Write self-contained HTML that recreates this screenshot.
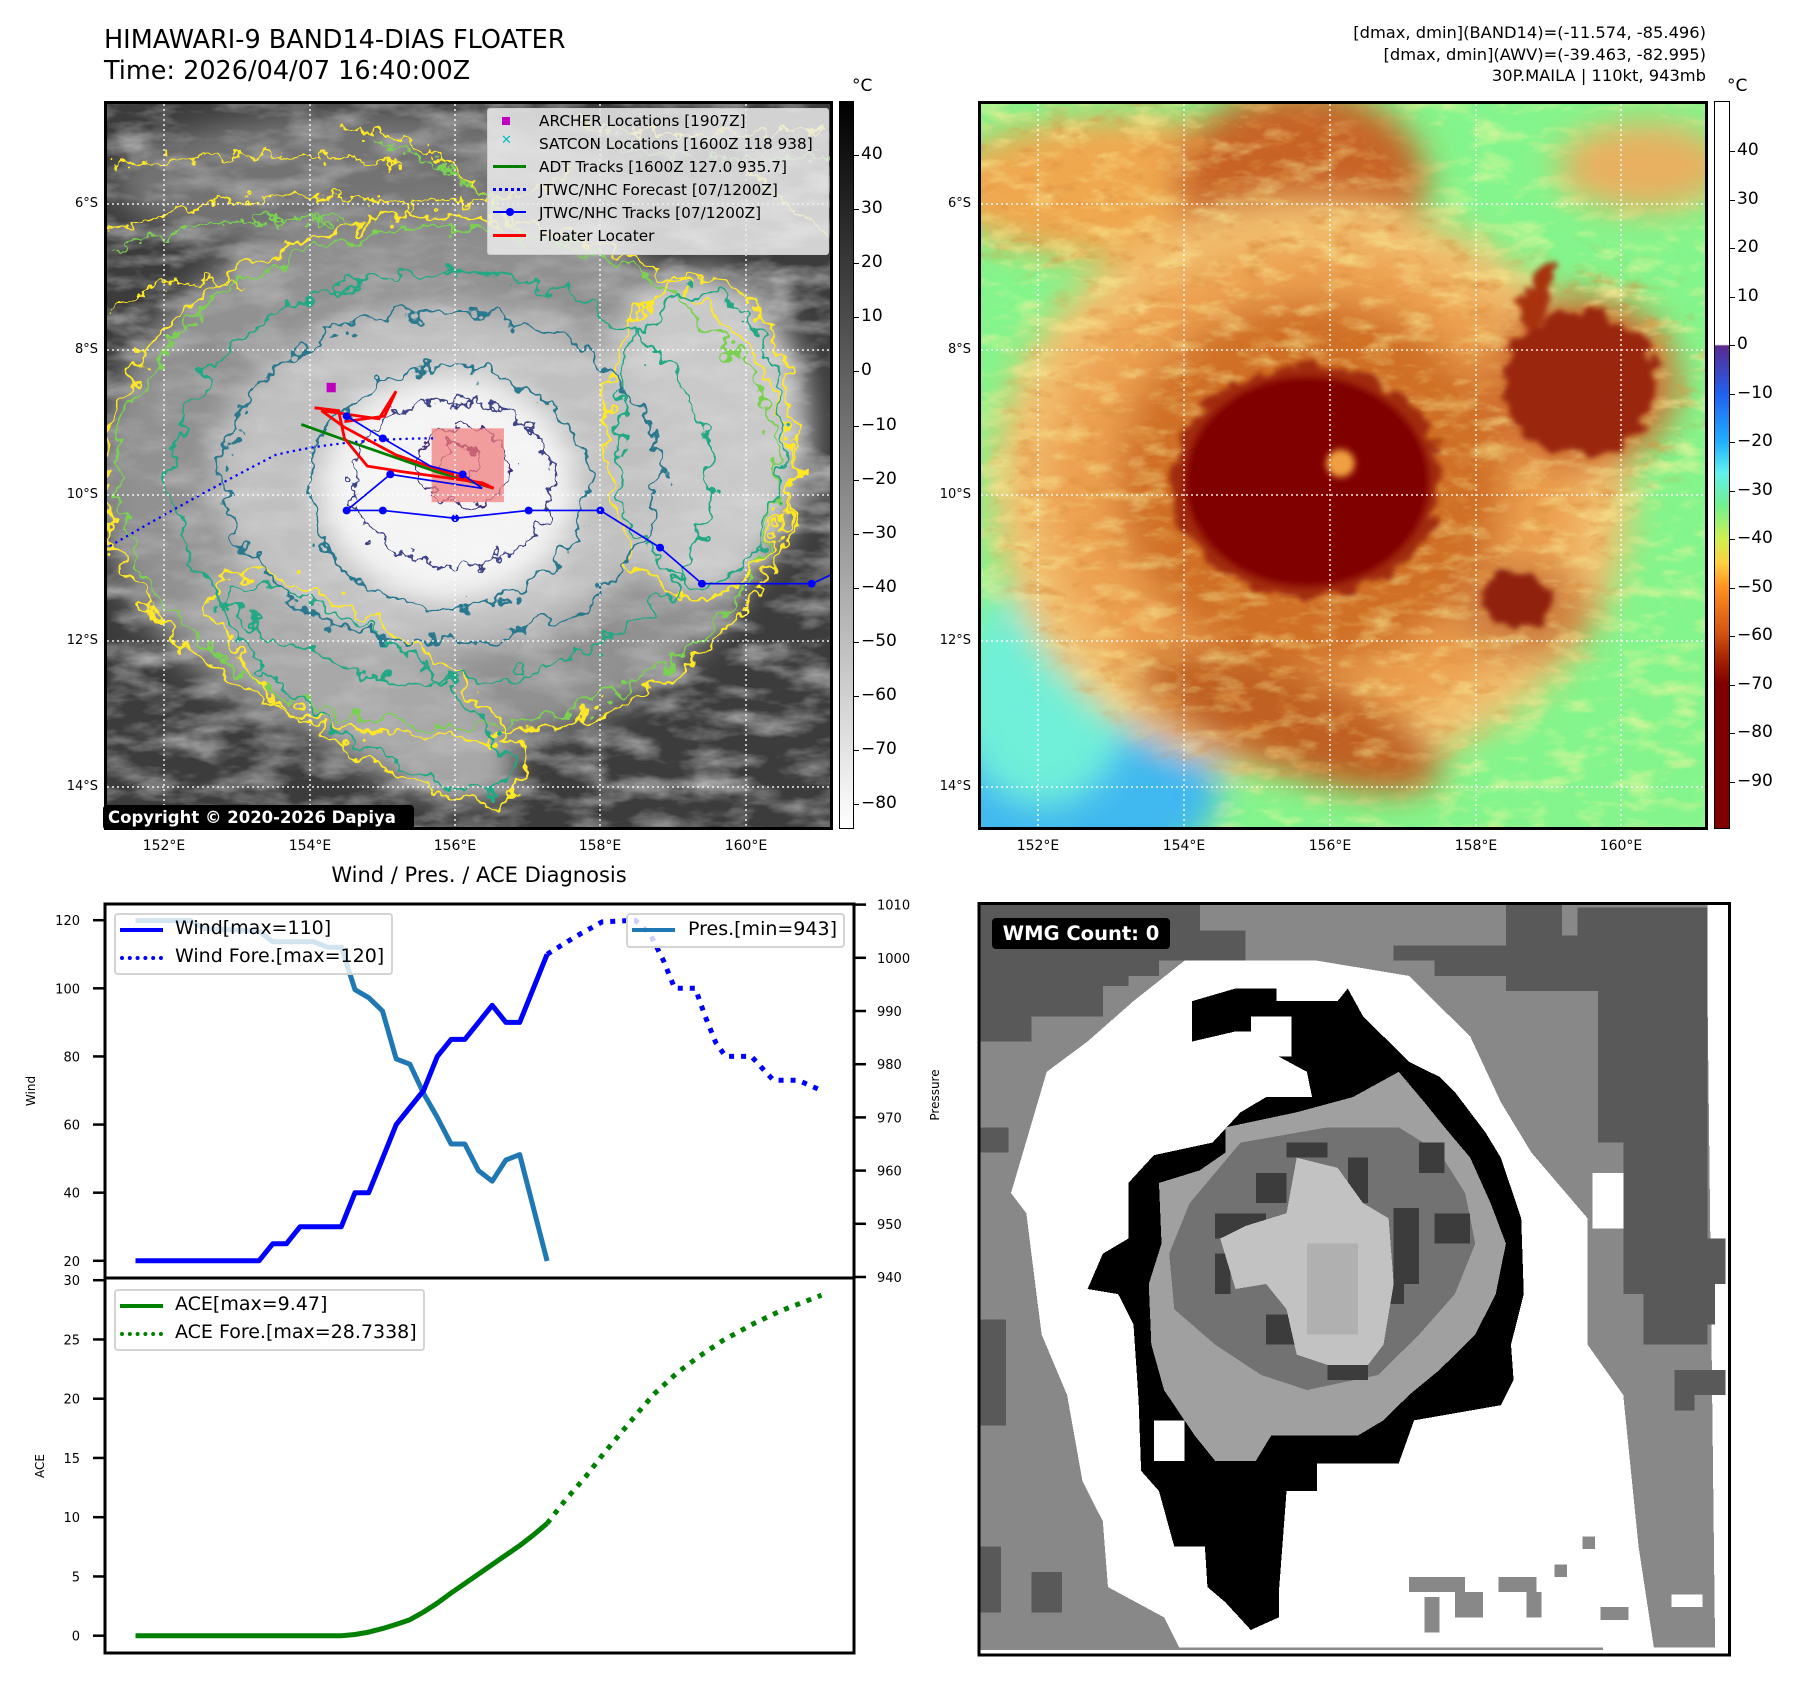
<!DOCTYPE html>
<html><head><meta charset="utf-8">
<style>
html,body{margin:0;padding:0;background:#fff;}
body{width:1797px;height:1690px;position:relative;overflow:hidden;font-family:"DejaVu Sans","Liberation Sans",sans-serif;color:#000;}
.abs{position:absolute;}
.t{position:absolute;white-space:nowrap;}
.frame{position:absolute;border:3px solid #000;box-sizing:border-box;}
.lat{position:absolute;font-size:13px;text-align:right;width:60px;}
.lon{position:absolute;font-size:14px;width:80px;text-align:center;}
.cbl{position:absolute;font-size:17px;}
</style></head><body>

<div class="t" style="left:104px;top:25px;font-size:25.5px;line-height:31px;">HIMAWARI-9 BAND14-DIAS FLOATER<br>Time: 2026/04/07 16:40:00Z</div>
<div class="t" style="right:91px;top:22px;font-size:16.3px;line-height:21.5px;text-align:right;">[dmax, dmin](BAND14)=(-11.574, -85.496)<br>[dmax, dmin](AWV)=(-39.463, -82.995)<br>30P.MAILA | 110kt, 943mb</div>

<!-- Top-left map -->
<svg class="abs" style="left:0;top:0;width:900px;height:870px" viewBox="0 0 1568 1568" preserveAspectRatio="none">
<defs>
<clipPath id="c1"><rect x="182" y="183" width="1268" height="1312"/></clipPath>
<filter id="bl1" x="-20%" y="-20%" width="140%" height="140%"><feGaussianBlur stdDeviation="25"/></filter>
<filter id="wig" x="-10%" y="-10%" width="120%" height="120%"><feTurbulence type="fractalNoise" baseFrequency="0.025" numOctaves="3" seed="4"/><feDisplacementMap in="SourceGraphic" scale="70" xChannelSelector="R" yChannelSelector="G"/></filter>
<filter id="wig2" x="-10%" y="-10%" width="120%" height="120%"><feTurbulence type="fractalNoise" baseFrequency="0.04" numOctaves="3" seed="9"/><feDisplacementMap in="SourceGraphic" scale="50" xChannelSelector="R" yChannelSelector="G"/></filter>
<filter id="noise"><feTurbulence type="fractalNoise" baseFrequency="0.01 0.025" numOctaves="4" seed="2"/><feColorMatrix type="matrix" values="0 0 0 0 1  0 0 0 0 1  0 0 0 0 1  0 0 0 1.6 -0.65"/></filter>
</defs>
<g clip-path="url(#c1)">
<rect x="182" y="183" width="1268" height="1312" fill="#3c3c3c"/>
<rect x="182" y="183" width="1268" height="1312" filter="url(#noise)" opacity="0.55"/>
<g filter="url(#bl1)">
<ellipse cx="760" cy="860" rx="590" ry="490" fill="#9a9a9a" opacity="0.9"/>
<ellipse cx="650" cy="330" rx="450" ry="130" fill="#8a8a8a" opacity="0.7"/>
<ellipse cx="1220" cy="780" rx="190" ry="290" fill="#c9c9c9"/>
<ellipse cx="620" cy="1230" rx="330" ry="120" fill="#a8a8a8" transform="rotate(35 620 1230)"/>
<ellipse cx="770" cy="860" rx="400" ry="310" fill="#c0c0c0"/>
<ellipse cx="780" cy="880" rx="220" ry="200" fill="#f4f4f4"/>
</g>
<rect x="182" y="183" width="1268" height="1312" filter="url(#noise)" opacity="0.25"/>
<g fill="none" stroke-width="5" filter="url(#wig)">
<ellipse cx="780" cy="860" rx="600" ry="470" stroke="#fde725"/>
<ellipse cx="780" cy="860" rx="575" ry="450" stroke="#7ad151"/>
<ellipse cx="1220" cy="790" rx="165" ry="290" stroke="#fde725"/>
<ellipse cx="1220" cy="790" rx="145" ry="265" stroke="#22a884"/>
<ellipse cx="640" cy="1240" rx="330" ry="110" stroke="#fde725" transform="rotate(35 640 1240)"/>
<ellipse cx="640" cy="1240" rx="300" ry="90" stroke="#22a884" transform="rotate(35 640 1240)"/>
<ellipse cx="770" cy="860" rx="470" ry="370" stroke="#22a884"/>
<ellipse cx="770" cy="860" rx="380" ry="300" stroke="#2a788e"/>
<ellipse cx="780" cy="880" rx="245" ry="215" stroke="#2a788e"/>
</g>
<g fill="none" stroke-width="4" filter="url(#wig2)">
<path d="M190 420 Q400 330 650 360 T1000 300 M200 300 Q450 260 700 300 M600 230 Q800 250 900 430 M190 560 Q300 480 420 520 M1000 220 Q1200 260 1440 230 M1300 300 Q1380 380 1440 420" stroke="#fde725"/>
<path d="M200 450 Q400 380 620 400 M650 260 Q820 280 920 450 M1050 260 Q1250 300 1440 280" stroke="#7ad151"/>
<ellipse cx="790" cy="870" rx="175" ry="150" stroke="#414487"/>
<ellipse cx="810" cy="840" rx="80" ry="70" stroke="#472d7b"/>
<ellipse cx="800" cy="830" rx="30" ry="30" stroke="#440154"/>
</g>
<rect x="752" y="772" width="126" height="133" fill="#f08080" opacity="0.75"/>
<path d="M182 990 Q330 900 480 820 Q600 790 760 790" fill="none" stroke="#0000ff" stroke-width="4" stroke-dasharray="4 7"/>
<path d="M525 765 L620 800 L760 850 L860 880" fill="none" stroke="#008000" stroke-width="5"/>
<path d="M548 735 L590 740 L600 790 L640 840 L700 850 L770 860 L840 870 L860 880 L690 820 L600 770 L560 740 L660 755 L690 705 L670 750 L600 760" fill="none" stroke="#ff0000" stroke-width="5"/>
<g fill="none" stroke="#0000ff" stroke-width="3"><polyline points="604,750 667,790 750,840 806,855 840,880 680,855 604,920 667,920 793,934 921,920 1046,920 1150,987 1223,1052 1414,1052 1450,1035"/></g>
<g fill="#0000ff"><circle cx="604" cy="750" r="7"/><circle cx="667" cy="790" r="7"/><circle cx="806" cy="855" r="7"/><circle cx="680" cy="855" r="7"/><circle cx="604" cy="920" r="7"/><circle cx="667" cy="920" r="7"/><circle cx="793" cy="934" r="7"/><circle cx="921" cy="920" r="7"/><circle cx="1046" cy="920" r="7"/><circle cx="1150" cy="987" r="7"/><circle cx="1223" cy="1052" r="7"/><circle cx="1414" cy="1052" r="7"/></g>
<rect x="569" y="690" width="16" height="17" fill="#bf00bf"/>
</g>
</svg>
<div class="frame" style="left:104px;top:101px;width:729px;height:729px;"></div>
<svg class="abs" style="left:0;top:0" width="900" height="870">
<g stroke="#fff" stroke-width="1.5" stroke-dasharray="2 3" opacity="0.9">
<line x1="164" y1="104" x2="164" y2="827"/><line x1="310" y1="104" x2="310" y2="827"/><line x1="455" y1="104" x2="455" y2="827"/><line x1="600" y1="104" x2="600" y2="827"/><line x1="746" y1="104" x2="746" y2="827"/>
<line x1="107" y1="204" x2="830" y2="204"/><line x1="107" y1="350" x2="830" y2="350"/><line x1="107" y1="495" x2="830" y2="495"/><line x1="107" y1="641" x2="830" y2="641"/><line x1="107" y1="787" x2="830" y2="787"/>
</g></svg>
<div class="abs" style="left:487px;top:108px;width:340px;height:145px;background:rgba(236,236,236,0.85);border:1px solid #ccc;border-radius:3px;font-size:15.3px;">
<div class="t" style="left:14px;top:4px;width:8px;height:8px;background:#bf00bf;margin-top:4px"></div><div class="t" style="left:51px;top:3px">ARCHER Locations [1907Z]</div>
<div class="t" style="left:13px;top:24px;color:#00bfbf;font-weight:bold;font-size:13px">✕</div><div class="t" style="left:51px;top:26px">SATCON Locations [1600Z 118 938]</div>
<div class="t" style="left:5px;top:56px;width:33px;height:3px;background:#008000"></div><div class="t" style="left:51px;top:49px">ADT Tracks [1600Z 127.0 935.7]</div>
<div class="t" style="left:5px;top:79px;width:33px;border-top:3px dotted #0000ff"></div><div class="t" style="left:51px;top:72px">JTWC/NHC Forecast [07/1200Z]</div>
<div class="t" style="left:5px;top:102px;width:33px;height:2px;background:#0000ff"></div><div class="t" style="left:18px;top:99px;width:8px;height:8px;border-radius:50%;background:#0000ff"></div><div class="t" style="left:51px;top:95px">JTWC/NHC Tracks [07/1200Z]</div>
<div class="t" style="left:5px;top:125px;width:33px;height:3px;background:#ff0000"></div><div class="t" style="left:51px;top:118px">Floater Locater</div>
</div>
<div class="abs" style="left:103px;top:805px;width:311px;height:25px;background:#000;border-radius:4px;color:#fff;font-weight:bold;font-size:16.5px;line-height:25px;padding-left:5px;box-sizing:border-box;">Copyright © 2020-2026 Dapiya</div>
<div class="lat" style="left:38px;top:196px">6°S</div><div class="lat" style="left:38px;top:342px">8°S</div><div class="lat" style="left:38px;top:487px">10°S</div><div class="lat" style="left:38px;top:633px">12°S</div><div class="lat" style="left:38px;top:779px">14°S</div>
<div class="lon" style="left:124px;top:838px">152°E</div><div class="lon" style="left:270px;top:838px">154°E</div><div class="lon" style="left:415px;top:838px">156°E</div><div class="lon" style="left:560px;top:838px">158°E</div><div class="lon" style="left:706px;top:838px">160°E</div>
<div class="abs" style="left:839px;top:101px;width:15px;height:728px;box-sizing:border-box;border:1px solid #000;background:linear-gradient(#000,#fff);"></div>
<div class="t" style="left:852px;top:76px;font-size:17px">°C</div>
<div id="cb1"></div>

<!-- Top-right map -->
<svg class="abs" style="left:900px;top:0;width:897px;height:870px" viewBox="0 0 1568 1568" preserveAspectRatio="none">
<defs>
<clipPath id="c2"><rect x="138" y="183" width="1272" height="1312"/></clipPath>
<filter id="b3" x="-30%" y="-30%" width="160%" height="160%"><feGaussianBlur stdDeviation="30"/></filter>
<filter id="b4" x="-30%" y="-30%" width="160%" height="160%"><feGaussianBlur stdDeviation="6"/></filter>
<filter id="w3" x="-10%" y="-10%" width="120%" height="120%"><feTurbulence type="fractalNoise" baseFrequency="0.03" numOctaves="3" seed="7"/><feDisplacementMap in="SourceGraphic" scale="50" xChannelSelector="R" yChannelSelector="G"/><feGaussianBlur stdDeviation="5"/></filter>
<filter id="nY"><feTurbulence type="fractalNoise" baseFrequency="0.015 0.035" numOctaves="4" seed="11"/><feColorMatrix type="matrix" values="0 0 0 0 0.95  0 0 0 0 0.93  0 0 0 0 0.35  0 0 0 2.2 -1.05"/></filter>
<filter id="nO"><feTurbulence type="fractalNoise" baseFrequency="0.02 0.04" numOctaves="4" seed="5"/><feColorMatrix type="matrix" values="0 0 0 0 0.72  0 0 0 0 0.28  0 0 0 0 0.05  0 0 0 2.6 -1.45"/></filter>
<mask id="stormMask"><ellipse cx="720" cy="880" rx="560" ry="520" fill="#fff" filter="url(#b3)"/><ellipse cx="480" cy="350" rx="420" ry="170" fill="#fff" filter="url(#b3)"/><ellipse cx="1200" cy="690" rx="220" ry="220" fill="#fff" filter="url(#b3)"/></mask>
</defs>
<g clip-path="url(#c2)">
<rect x="138" y="183" width="1272" height="1312" fill="#84f58c"/>
<rect x="138" y="183" width="1272" height="1312" filter="url(#nY)" opacity="0.7"/>
<g filter="url(#b3)">
<ellipse cx="300" cy="1420" rx="260" ry="160" fill="#40b8f0"/>
<ellipse cx="250" cy="1250" rx="150" ry="200" fill="#70f0d8"/>
<ellipse cx="1300" cy="300" rx="150" ry="80" fill="#e8b060"/>
<ellipse cx="400" cy="340" rx="330" ry="130" fill="#f0a850"/>
<ellipse cx="700" cy="330" rx="220" ry="170" fill="#c86428"/>
<ellipse cx="720" cy="880" rx="560" ry="520" fill="#f2c070"/>
<ellipse cx="720" cy="880" rx="470" ry="440" fill="#eca050"/>
<ellipse cx="720" cy="870" rx="340" ry="330" fill="#d07028"/>
<ellipse cx="680" cy="1300" rx="280" ry="90" fill="#c06020" transform="rotate(20 680 1300)"/>
<ellipse cx="1190" cy="690" rx="170" ry="160" fill="#d07030"/>
<ellipse cx="1090" cy="1100" rx="120" ry="90" fill="#d08040"/>
</g>
<g mask="url(#stormMask)">
<rect x="138" y="183" width="1272" height="1312" filter="url(#nY)" opacity="0.6"/>
<rect x="138" y="183" width="1272" height="1312" filter="url(#nO)" opacity="0.8"/>
</g>
<g filter="url(#w3)">
<ellipse cx="1190" cy="690" rx="135" ry="130" fill="#9a2808"/>
<path d="M1080 560 L1130 470 L1150 500 L1110 600Z" fill="#a83010"/>
<ellipse cx="712" cy="868" rx="235" ry="210" fill="#a02a08"/>
<ellipse cx="1080" cy="1080" rx="60" ry="50" fill="#902008"/>
</g>
<g filter="url(#b4)">
<ellipse cx="712" cy="868" rx="212" ry="188" fill="#800000"/>
</g>
<ellipse cx="712" cy="868" rx="204" ry="180" fill="#800000"/>
<ellipse cx="770" cy="835" rx="25" ry="25" fill="#f0a040" filter="url(#b4)"/>
</g>
</svg>
<div class="frame" style="left:978px;top:101px;width:730px;height:729px;"></div>
<svg class="abs" style="left:900px;top:0" width="900" height="870">
<g stroke="#fff" stroke-width="1.5" stroke-dasharray="2 3" opacity="0.9">
<line x1="138" y1="104" x2="138" y2="827"/><line x1="284" y1="104" x2="284" y2="827"/><line x1="430" y1="104" x2="430" y2="827"/><line x1="576" y1="104" x2="576" y2="827"/><line x1="721" y1="104" x2="721" y2="827"/>
<line x1="81" y1="204" x2="806" y2="204"/><line x1="81" y1="350" x2="806" y2="350"/><line x1="81" y1="495" x2="806" y2="495"/><line x1="81" y1="641" x2="806" y2="641"/><line x1="81" y1="787" x2="806" y2="787"/>
</g></svg>
<div class="lat" style="left:911px;top:196px">6°S</div><div class="lat" style="left:911px;top:342px">8°S</div><div class="lat" style="left:911px;top:487px">10°S</div><div class="lat" style="left:911px;top:633px">12°S</div><div class="lat" style="left:911px;top:779px">14°S</div>
<div class="lon" style="left:998px;top:838px">152°E</div><div class="lon" style="left:1144px;top:838px">154°E</div><div class="lon" style="left:1290px;top:838px">156°E</div><div class="lon" style="left:1436px;top:838px">158°E</div><div class="lon" style="left:1581px;top:838px">160°E</div>
<div class="abs" style="left:1714px;top:101px;width:16px;height:728px;box-sizing:border-box;border:1px solid #000;background:linear-gradient(#fff 0%,#fff 33.4%,#5a2a90 33.6%,#2060f0 40.2%,#20b0ff 46.8%,#60f0f0 51%,#70f090 55.5%,#d0f050 60.2%,#ffd040 63.5%,#ff9020 66.9%,#d05010 73.5%,#a02000 77%,#800000 80.2%,#800000 100%);"></div>
<div class="t" style="left:1727px;top:76px;font-size:17px">°C</div>
<div id="cb2"></div>

<!-- Chart -->
<div class="t" style="left:479px;top:863px;font-size:21px;transform:translateX(-50%)">Wind / Pres. / ACE Diagnosis</div>
<svg id="chart" class="abs" style="left:0;top:0" width="960" height="1690"></svg>
<div class="abs" style="left:114px;top:913px;width:279px;height:62px;background:rgba(255,255,255,0.8);border:2px solid #d4d4d4;border-radius:4px;box-sizing:border-box;font-size:19px;">
<div class="t" style="left:4px;top:13px;width:43px;height:4px;background:#0000ff"></div><div class="t" style="left:59px;top:2px">Wind[max=110]</div>
<div class="t" style="left:4px;top:41px;width:43px;border-top:4px dotted #0000ff"></div><div class="t" style="left:59px;top:30px">Wind Fore.[max=120]</div></div>
<div class="abs" style="left:626px;top:913px;width:219px;height:35px;background:rgba(255,255,255,0.8);border:2px solid #d4d4d4;border-radius:4px;box-sizing:border-box;font-size:19px;">
<div class="t" style="left:4px;top:13px;width:43px;height:4px;background:#1f77b4"></div><div class="t" style="left:60px;top:3px">Pres.[min=943]</div></div>
<div class="abs" style="left:114px;top:1289px;width:311px;height:62px;background:rgba(255,255,255,0.8);border:2px solid #d4d4d4;border-radius:4px;box-sizing:border-box;font-size:19px;">
<div class="t" style="left:4px;top:13px;width:43px;height:4px;background:#008000"></div><div class="t" style="left:59px;top:2px">ACE[max=9.47]</div>
<div class="t" style="left:4px;top:41px;width:43px;border-top:4px dotted #008000"></div><div class="t" style="left:59px;top:30px">ACE Fore.[max=28.7338]</div></div>
<div class="t" style="left:31px;top:1091px;font-size:12px;transform:translate(-50%,-50%) rotate(-90deg)">Wind</div>
<div class="t" style="left:40px;top:1466px;font-size:12px;transform:translate(-50%,-50%) rotate(-90deg)">ACE</div>
<div class="t" style="left:935px;top:1095px;font-size:12px;transform:translate(-50%,-50%) rotate(-90deg)">Pressure</div>

<!-- Bottom-right WMG -->
<svg class="abs" style="left:960px;top:890px;width:800px;height:792px" viewBox="0 0 1568 1568" preserveAspectRatio="none" shape-rendering="crispEdges">
<rect x="37" y="27" width="1471" height="1488" fill="#fff"/>
<path d="M40 30 H1465 V200 L1480 1500 H1260 V1505 H40Z" fill="#888"/>
<path d="M40 30 H470 V80 H560 V110 H1070 V30 H1180 V90 H1210 V35 H1465 V900 H1400 V800 H1340 V700 H1300 V500 H1250 V200 H1070 V170 H930 V140 H850 V110 H560 V140 H390 V170 H330 V190 H280 V250 H140 V300 H40Z" fill="#595959"/>
<path d="M1300 690 H1500 V780 H1480 V860 H1400 V900 H1340 V800 H1300Z" fill="#595959"/>
<path d="M40 470 H95 V520 H40Z M40 850 H90 V1060 H40Z M40 1300 H80 V1430 H40Z M140 1350 H200 V1430 H140Z M1400 950 H1500 V1000 H1440 V1030 H1400Z" fill="#595959"/>
<path d="M440 140 L700 140 L880 170 L1000 290 L1060 420 L1120 520 L1230 650 L1230 900 L1300 1000 L1330 1300 L1360 1500 L430 1500 L400 1440 L290 1380 L280 1250 L240 1170 L210 1000 L160 880 L130 640 L100 600 L170 360 L250 300 L340 220 Z" fill="#fff"/>
<path d="M1240 560 H1300 V670 H1240Z" fill="#fff"/>
<path d="M455 220 L540 195 L620 195 L620 220 L740 220 L760 195 L790 250 L820 280 L880 340 L940 370 L970 400 L1030 480 L1060 530 L1100 650 L1105 800 L1080 900 L1085 970 L1060 1020 L890 1050 L860 1135 L700 1135 L700 1190 L640 1190 L625 1390 L625 1440 L570 1465 L520 1410 L485 1380 L480 1300 L420 1300 L390 1190 L355 1150 L350 1010 L340 860 L310 800 L250 790 L280 720 L330 690 L330 580 L380 525 L495 500 L550 440 L600 410 L690 410 L680 360 L625 330 L620 280 L540 280 L455 300Z" fill="#000"/>
<path d="M570 250 H650 V330 H570Z M380 1050 H440 V1130 H380Z" fill="#fff"/>
<path d="M520 470 L660 440 L770 410 L860 360 L910 420 L950 470 L1000 530 L1040 620 L1070 700 L1050 800 L1010 880 L940 950 L880 1000 L830 1050 L780 1080 L610 1080 L580 1130 L500 1130 L460 1080 L400 990 L375 900 L370 780 L395 700 L390 580 L470 555 L520 520Z" fill="#a0a0a0"/>
<path d="M550 500 L720 470 L860 470 L940 520 L990 600 L1010 700 L970 800 L900 880 L820 960 L680 990 L590 960 L500 900 L420 830 L410 720 L450 620 L500 560Z" fill="#727272"/>
<path d="M640 500 H720 V530 H640Z M760 530 H800 V620 H760Z M850 630 H900 V780 H850Z M580 560 H640 V620 H580Z M500 640 H600 V690 H500Z M900 500 H950 V560 H900Z M930 640 H1000 V700 H930Z M820 780 H870 V820 H820Z M600 840 H660 V900 H600Z M720 940 H800 V970 H720Z M500 720 H530 V800 H500Z" fill="#3c3c3c"/>
<path d="M660 530 L740 550 L790 620 L840 650 L850 780 L830 900 L800 940 L720 940 L660 920 L640 830 L600 780 L540 790 L510 690 L560 665 L640 640Z" fill="#c2c2c2"/>
<path d="M680 700 H780 V880 H680Z" fill="#b0b0b0"/>
<path d="M880 1360 H990 V1390 H880Z M910 1400 H940 V1470 H910Z M970 1390 H1025 V1440 H970Z M1055 1360 H1130 V1390 H1055Z M1110 1390 H1140 V1440 H1110Z M1220 1280 H1245 V1305 H1220Z M1255 1420 H1310 V1445 H1255Z M1165 1335 H1190 V1360 H1165Z" fill="#888"/>
<rect x="1395" y="1395" width="60" height="25" fill="#fff"/>
<rect x="37" y="27" width="1471" height="1488" fill="none" stroke="#000" stroke-width="6"/>
</svg>
<div class="abs" style="left:992px;top:918px;width:178px;height:31px;background:#000;border-radius:4px;color:#fff;font-weight:bold;font-size:19.5px;line-height:31px;text-align:center;">WMG Count: 0</div>

<script>
// Wind (kt) observed
const windIdx = [0,1,2,3,4,5,6,7,8,9,10,11,12,13,14,15,16,17,18,19,20,21,22,23,24,25,26,27,28,29,30];
const windVal = [20,20,20,20,20,20,20,20,20,20,25,25,30,30,30,30,40,40,50,60,65,70,80,85,85,90,95,90,90,100,110];
// Wind forecast
const windForeIdx = [30,32,34,36.4,37.5,38.5,39.3,40.8,41.5,42.3,43,44.9,45.8,46.5,48.3,50];
const windForeVal = [110,115,119.5,120,116,108,100,100,92,84,80,80,76,73,73,70];
// Pressure (hPa)
const presIdx = [0,4,5,9,10,13,14,15,16,17,18,19,20,21,22,23,24,25,26,27,28,30];
const presVal = [1007,1007,1005.5,1005,1003,1003,1002,1002,994,992.5,990,981,980,974.5,970,965,965,960,958,962,963,943];
// ACE observed
const aceIdx = [0,15,16,17,18,19,20,21,22,23,24,25,26,27,28,29,30];
const aceVal = [0,0,0.1,0.3,0.6,0.95,1.35,2.0,2.75,3.6,4.4,5.2,6.0,6.8,7.6,8.5,9.47];
// ACE forecast
const aceForeIdx = [30,31.3,32.8,34,35.3,36.6,37.8,39.5,41,42.8,45,47,50];
const aceForeVal = [9.47,11.4,13.4,15.2,17,18.8,20.4,22.2,23.5,24.9,26.3,27.4,28.73];
// Ticks
const windTicks = [20,40,60,80,100,120];
const presTicks = [940,950,960,970,980,990,1000,1010];
const aceTicks = [0,5,10,15,20,25,30];
const cb1Ticks = [40,30,20,10,0,-10,-20,-30,-40,-50,-60,-70,-80];
const cb2Ticks = [40,30,20,10,0,-10,-20,-30,-40,-50,-60,-70,-80,-90];

const xS = i => 135.5 + i*13.72;
const windY = v => 1260.8 - (v-20)*3.406;
const presY = p => 1277 - (p-940)*5.32;
const aceY = a => 1635.7 - a*11.85;
const NS = 'http://www.w3.org/2000/svg';
const svg = document.getElementById('chart');
function mk(tag, attrs){const e=document.createElementNS(NS,tag);for(const k in attrs)e.setAttribute(k,attrs[k]);svg.appendChild(e);return e;}
function line(xs, ys, fy, color, w, dash, name){
  const pts = xs.map((x,i)=>xS(x).toFixed(1)+','+fy(ys[i]).toFixed(1)).join(' ');
  const e = mk('polyline',{points:pts,fill:'none',stroke:color,'stroke-width':w,'stroke-linejoin':'round'});
  if(dash) e.setAttribute('stroke-dasharray',dash);
  
  
}
function txt(x,y,s,anchor){const e=mk('text',{x:x,y:y,'font-size':13,'text-anchor':anchor,'font-family':'DejaVu Sans, Liberation Sans, sans-serif'});e.textContent=s;
  
  }
mk('rect',{x:105,y:904,width:749,height:749,fill:'none',stroke:'#000','stroke-width':3});
mk('line',{x1:105,y1:1278,x2:854,y2:1278,stroke:'#000','stroke-width':3});
windTicks.forEach(v=>{const y=windY(v);mk('line',{x1:93,y1:y,x2:105,y2:y,stroke:'#000','stroke-width':2.5});txt(80,y+5,String(v),'end');});
presTicks.forEach(v=>{const y=presY(v);mk('line',{x1:854,y1:y,x2:866,y2:y,stroke:'#000','stroke-width':2.5});txt(877,y+5,String(v),'start');});
aceTicks.forEach(v=>{const y=aceY(v);mk('line',{x1:93,y1:y,x2:105,y2:y,stroke:'#000','stroke-width':2.5});txt(80,y+5,String(v),'end');});
line(presIdx,presVal,presY,'#1f77b4',5,null,'pressure-line');
line(windIdx,windVal,windY,'#0000ff',5,null,'wind-line');
line(windForeIdx,windForeVal,windY,'#0000ff',5,'5 7','wind-forecast-line');
line(aceIdx,aceVal,aceY,'#008000',5,null,'ace-line');
line(aceForeIdx,aceForeVal,aceY,'#008000',5,'5 7','ace-forecast-line');

const cb1 = document.getElementById('cb1');
cb1Ticks.forEach(v=>{const y=155+(40-v)*5.41;const d=document.createElement('div');d.className='cbl';d.style.left='861px';d.style.top=(y-11)+'px';d.textContent=(v<0?'\u2212'+(-v):String(v));
  
  
  cb1.appendChild(d);
  const t=document.createElement('div');t.className='abs';t.style.cssText='left:854px;top:'+y+'px;width:5px;height:1px;background:#000';cb1.appendChild(t);});
const cb2 = document.getElementById('cb2');
cb2Ticks.forEach(v=>{const y=151+(40-v)*4.854;const d=document.createElement('div');d.className='cbl';d.style.left='1737px';d.style.top=(y-11)+'px';d.textContent=(v<0?'\u2212'+(-v):String(v));
  
  
  cb2.appendChild(d);
  const t=document.createElement('div');t.className='abs';t.style.cssText='left:1730px;top:'+y+'px;width:5px;height:1px;background:#000';cb2.appendChild(t);});
</script>
</body></html>
